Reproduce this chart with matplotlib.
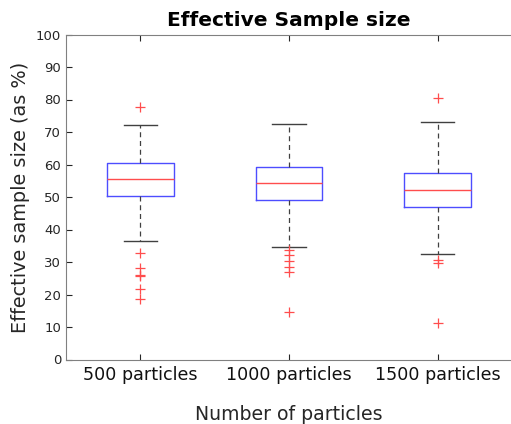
import matplotlib
matplotlib.use("Agg")
import matplotlib.pyplot as plt

categories = ["500 particles", "1000 particles", "1500 particles"]
whisker_low = [36.4, 34.7, 32.5]
q1 = [50.3, 49.2, 47.0]
median = [55.5, 54.2, 52.1]
q3 = [60.6, 59.2, 57.4]
whisker_high = [72.3, 72.5, 73.1]
outliers = [
    [77.7, 32.9, 28.1, 25.9, 25.7, 21.8, 18.7],
    [33.6, 32.1, 30.3, 28.6, 27.0, 14.7],
    [80.5, 30.7, 29.8, 11.2],
]

stats = []
for i in range(len(categories)):
    stats.append(dict(med=median[i], q1=q1[i], q3=q3[i],
                      whislo=whisker_low[i], whishi=whisker_high[i],
                      fliers=outliers[i], label=categories[i]))

fig = plt.figure(figsize=(5.11, 4.24), dpi=100)
ax = fig.add_axes([66/511, (424-359.5)/424, 446/511, 325/424])

ax.bxp(stats, positions=[1, 2, 3], widths=0.45, capwidths=0.225,
       showfliers=True, patch_artist=False,
       boxprops=dict(color=(0.3, 0.3, 1.0), linewidth=1.0),
       medianprops=dict(color=(1.0, 0.3, 0.3), linewidth=1.0),
       whiskerprops=dict(color=(0.25, 0.25, 0.25), linewidth=0.9, linestyle=(0, (4, 3))),
       capprops=dict(color=(0.25, 0.25, 0.25), linewidth=1.0),
       flierprops=dict(marker='+', markeredgecolor=(1.0, 0.3, 0.3),
                       markersize=7, markeredgewidth=0.9, linestyle='none'))

ax.set_xlim(0.5, 3.5)
ax.set_ylim(0, 100)
ax.set_yticks(range(0, 101, 10))
ax.set_xticks([1, 2, 3])
ax.set_xticklabels(categories, fontsize=12.6, color='#111111')
ax.tick_params(axis='y', labelsize=9.5, colors='#262626', direction='in', length=4, right=False)
ax.tick_params(axis='x', direction='in', length=4, colors='#262626', pad=5, top=True)
for t in ax.get_xticklabels():
    t.set_color('#111111')
for s in ax.spines.values():
    s.set_color('#808080')
    s.set_linewidth(0.8)
ax.spines['right'].set_visible(False)

ax.set_title("Effective Sample size", fontsize=14.5, fontweight='bold', pad=6)
ax.set_ylabel("Effective sample size (as %)", fontsize=13.9, color='#262626', labelpad=4)
ax.set_xlabel("Number of particles", fontsize=13.6, color='#262626', labelpad=15)

fig.savefig("out.png", dpi=100)
